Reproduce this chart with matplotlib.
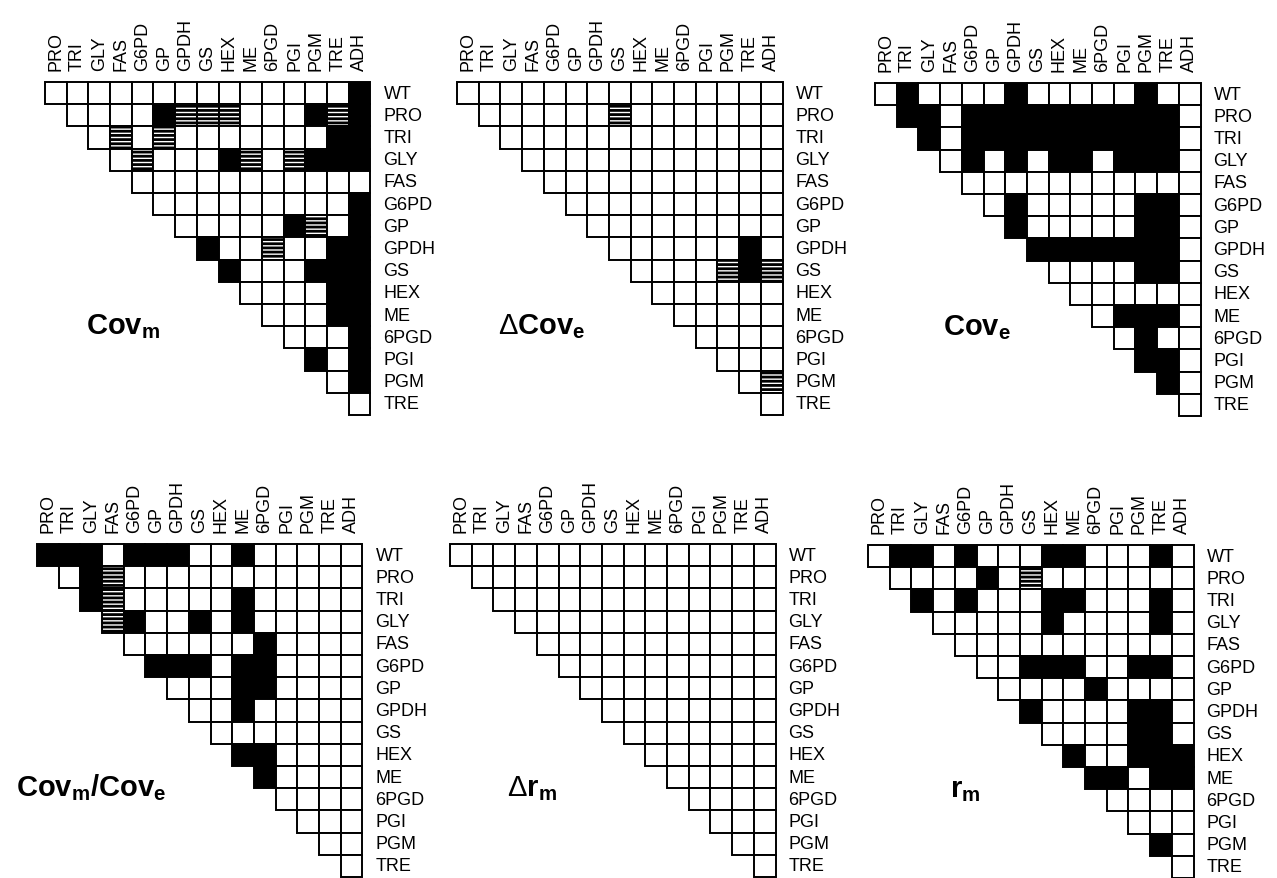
import matplotlib
matplotlib.use('Agg')
import matplotlib.pyplot as plt
from matplotlib.patches import Rectangle

plt.rcParams['font.family'] = ['Liberation Sans', 'DejaVu Sans']
plt.rcParams['mathtext.fontset'] = 'custom'
plt.rcParams['mathtext.rm'] = 'Liberation Sans'
plt.rcParams['mathtext.bf'] = 'Liberation Sans:bold'
plt.rcParams['mathtext.it'] = 'Liberation Sans:italic'
plt.rcParams['hatch.linewidth'] = 2.0

col_labels = ['PRO', 'TRI', 'GLY', 'FAS', 'G6PD', 'GP', 'GPDH', 'GS', 'HEX',
              'ME', '6PGD', 'PGI', 'PGM', 'TRE', 'ADH']
row_labels = ['WT', 'PRO', 'TRI', 'GLY', 'FAS', 'G6PD', 'GP', 'GPDH', 'GS',
              'HEX', 'ME', '6PGD', 'PGI', 'PGM', 'TRE']

# each row r holds the cells for columns r..14
# 0 = white, 1 = black, 2 = hatched
cov_m = ["000000000000001", "00001222000121", "0202000000011", "020001202111",
         "00000000000", "0000000001", "000001201", "10020011", "1000111",
         "000011", "00011", "0001", "101", "01", "0"]

delta_cov_e = ["000000000000000", "00000020000000", "0000000000000", "000000000000",
               "00000000000", "0000000000", "000000000", "00000010", "0000212",
               "000000", "00000", "0000", "000", "02", "0"]

cov_e = ["010000100000100", "11011111111110", "1011111111110", "010101101110",
         "00000000000", "0100000110", "100000110", "11111110", "0000110",
         "000000", "01110", "0100", "110", "10", "0"]

cov_ratio = ["111011100100000", "01200000000000", "1200000100000", "210010100000",
             "00000010000", "1110110000", "000110000", "00100000", "0000000",
             "110000", "10000", "0000", "000", "00", "0"]

delta_r_m = ["000000000000000", "00000000000000", "0000000000000", "000000000000",
             "00000000000", "0000000000", "000000000", "00000000", "0000000",
             "000000", "00000", "0000", "000", "00", "0"]

r_m = ["011010001100010", "00001020000000", "1010001100010", "000001000010",
       "00000000000", "0011100110", "000010000", "10000110", "0000110",
       "100111", "11011", "0000", "000", "10", "0"]

W, H = 1277, 879
fig = plt.figure(figsize=(W / 100, H / 100), dpi=100)

cell_w, cell_h = 21.7, 22.2

# matrix, title, grid top-left (px), title position (cell units)
panels = [
    (cov_m, r'$\mathbf{Cov_m}$', (45, 83), (3.6, 11.3)),
    (delta_cov_e, r'$\Delta\mathbf{Cov_e}$', (457, 83), (3.9, 11.3)),
    (cov_e, r'$\mathbf{Cov_e}$', (875, 84), (4.7, 11.3)),
    (cov_ratio, r'$\mathbf{Cov_m/Cov_e}$', (37, 545), (2.5, 11.3)),
    (delta_r_m, r'$\Delta\mathbf{r_m}$', (450, 545), (3.8, 11.3)),
    (r_m, r'$\mathbf{r_m}$', (868, 546), (4.5, 11.3)),
]

for mat, title, (x0, y0), (tx, ty) in panels:
    w, h = 15 * cell_w, 15 * cell_h
    ax = fig.add_axes([x0 / W, 1 - (y0 + h) / H, w / W, h / H])
    ax.set_xlim(0, 15)
    ax.set_ylim(15, 0)
    ax.axis('off')
    for r, row in enumerate(mat):
        for k, ch in enumerate(row):
            c = r + k
            code = int(ch)
            ax.add_patch(Rectangle((c, r), 1, 1,
                                   facecolor='black' if code == 1 else 'white',
                                   edgecolor='black', lw=1.4,
                                   hatch='----' if code == 2 else None,
                                   clip_on=False))
    for r, lab in enumerate(row_labels):
        ax.text(15.6, r + 0.5, lab, ha='left', va='center', fontsize=13,
                clip_on=False)
    for c, lab in enumerate(col_labels):
        ax.text(c + 0.5, -0.55, lab, ha='center', va='bottom', rotation=90,
                fontsize=13, clip_on=False)
    ax.text(tx, ty, title, ha='center', va='baseline', fontsize=21,
            clip_on=False)

fig.savefig('out.png', dpi=100)
